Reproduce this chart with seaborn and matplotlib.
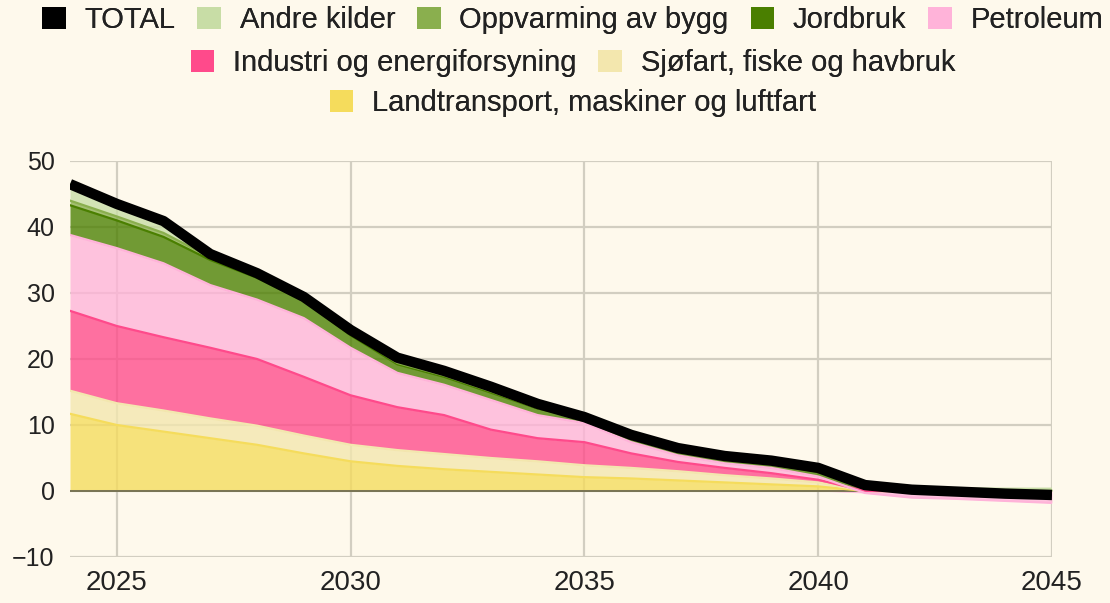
import numpy as np
import matplotlib
matplotlib.use("Agg")
import matplotlib.pyplot as plt
import seaborn as sns
from matplotlib.patches import Patch

# ---------------- data (Mt CO2-eq) ----------------
years = list(range(2024, 2046))

landtransport = [11.7, 10.0, 9.0, 8.0, 7.0, 5.7, 4.5, 3.8, 3.3, 2.9, 2.5, 2.1, 1.9, 1.6, 1.3, 1.0, 0.7, 0, 0, 0, 0, 0]
sjofart       = [3.5, 3.3, 3.2, 3.0, 2.9, 2.7, 2.5, 2.4, 2.3, 2.1, 2.0, 1.8, 1.6, 1.4, 1.1, 0.9, 0.6, 0, 0, 0, 0, 0]
industri      = [12.1, 11.7, 11.1, 10.7, 10.1, 8.9, 7.5, 6.5, 5.9, 4.3, 3.5, 3.5, 2.2, 1.4, 1.1, 0.8, 0.4, 0, 0, 0, 0, 0]
petroleum     = [11.5, 11.8, 11.2, 9.5, 9.0, 8.9, 7.2, 5.2, 4.6, 4.5, 3.5, 2.9, 1.7, 1.0, 0.7, 0.8, 0.5, -0.3, -1.0, -1.2, -1.5, -1.8]
jordbruk      = [4.5, 4.2, 4.0, 3.8, 3.3, 2.6, 1.9, 1.3, 1.2, 1.1, 1.0, 0.6, 0.6, 0.6, 0.6, 0.6, 0.7, 0.6, 0.2, 0.2, 0.2, 0.2]
oppvarming    = [0.7, 0.6, 0.6, 0.4, 0.4, 0.3, 0.3, 0.2, 0.2, 0.2, 0.1, 0.1, 0.1, 0.1, 0.1, 0.1, 0.1, 0.1, 0.05, 0.05, 0.05, 0.05]
andre_kilder  = [2.5, 1.9, 1.8, 0.5, 0.3, 0.3, 0.5, 0.8, 0.7, 0.7, 0.6, 0.2, 0.4, 0.4, 0.4, 0.4, 0.5, 0.4, 0.15, 0.15, 0.1, 0.1]
total         = [46.5, 43.5, 40.9, 35.9, 33.0, 29.4, 24.4, 20.2, 18.2, 15.8, 13.2, 11.2, 8.5, 6.5, 5.3, 4.6, 3.5, 0.9, 0.2, -0.1, -0.4, -0.6]

# stacking order bottom -> top
stack_names = ["Landtransport, maskiner og luftfart", "Sjøfart, fiske og havbruk",
               "Industri og energiforsyning", "Petroleum", "Jordbruk",
               "Oppvarming av bygg", "Andre kilder"]
stack_values = [landtransport, sjofart, industri, petroleum, jordbruk, oppvarming, andre_kilder]
stack_colors = ["#f5dc5c", "#f3e7ae", "#ff4a8b", "#ffb3d9", "#4a7f00", "#8aaf4e", "#c8dda6"]

legend_rows = [
    ["TOTAL", "Andre kilder", "Oppvarming av bygg", "Jordbruk", "Petroleum"],
    ["Industri og energiforsyning", "Sjøfart, fiske og havbruk"],
    ["Landtransport, maskiner og luftfart"],
]

BG = "#fef9ec"
TXT = "#222222"

sns.set_theme(style="white")
plt.rcParams["font.family"] = ["Liberation Sans", "DejaVu Sans"]

fig = plt.figure(figsize=(11.1, 6.03), dpi=100, facecolor=BG)
ax = fig.add_axes([70 / 1110, 46 / 603, (1052 - 70) / 1110, (557 - 161) / 603])
ax.set_facecolor(BG)

x = np.array(years, dtype=float)
pos_base = np.zeros(len(x))
neg_base = np.zeros(len(x))
for name, vals, col in zip(stack_names, stack_values, stack_colors):
    v = np.array(vals, dtype=float)
    pos = np.clip(v, 0, None)
    neg = np.clip(v, None, 0)
    ax.fill_between(x, pos_base, pos_base + pos, color=col, alpha=0.78, lw=0, zorder=2)
    ax.fill_between(x, neg_base + neg, neg_base, color=col, alpha=0.78, lw=0, zorder=2)
    edge = np.where(v >= 0, pos_base + pos, neg_base + neg)
    sns.lineplot(x=x, y=edge, color=col, lw=1.6, ax=ax, zorder=3, legend=False)
    pos_base = pos_base + pos
    neg_base = neg_base + neg

ax.axhline(0, color="#6f6b4f", lw=1.3, zorder=2.5)

sns.lineplot(x=x, y=np.array(total), color="black", lw=7.5, ax=ax, zorder=5,
             legend=False, solid_joinstyle="round", solid_capstyle="butt")

ax.set_xlim(2024, 2045)
ax.set_ylim(-10, 50)
ax.set_xticks(range(2025, 2046, 5))
ax.set_yticks(range(-10, 51, 10))
ax.grid(True, color="#d2cec1", lw=1.6, zorder=0)
ax.set_axisbelow(True)
for s in ax.spines.values():
    s.set_visible(False)
ax.tick_params(axis="y", length=0, pad=11, labelsize=18, labelcolor=TXT)
ax.tick_params(axis="x", length=0, pad=9, labelsize=20, labelcolor=TXT)
ax.set_xlabel("")
ax.set_ylabel("")

# legend in three centred rows
color_map = {"TOTAL": "black"}
for n, c in zip(stack_names, stack_colors):
    color_map[n] = c
row_y = [20, 63, 103]
for row, yp in zip(legend_rows, row_y):
    handles = [Patch(facecolor=color_map[n], edgecolor="none", label=n) for n in row]
    lg = fig.legend(handles=handles, loc="center", bbox_to_anchor=(0.516, 1 - yp / 603),
                    ncol=len(row), frameon=False, fontsize=21, handlelength=0.8,
                    handleheight=0.8, handletextpad=0.65, columnspacing=0.75,
                    borderpad=0, borderaxespad=0)
    for t in lg.get_texts():
        t.set_color(TXT)
    fig.add_artist(lg)

fig.savefig("out.png", dpi=100, facecolor=BG)
